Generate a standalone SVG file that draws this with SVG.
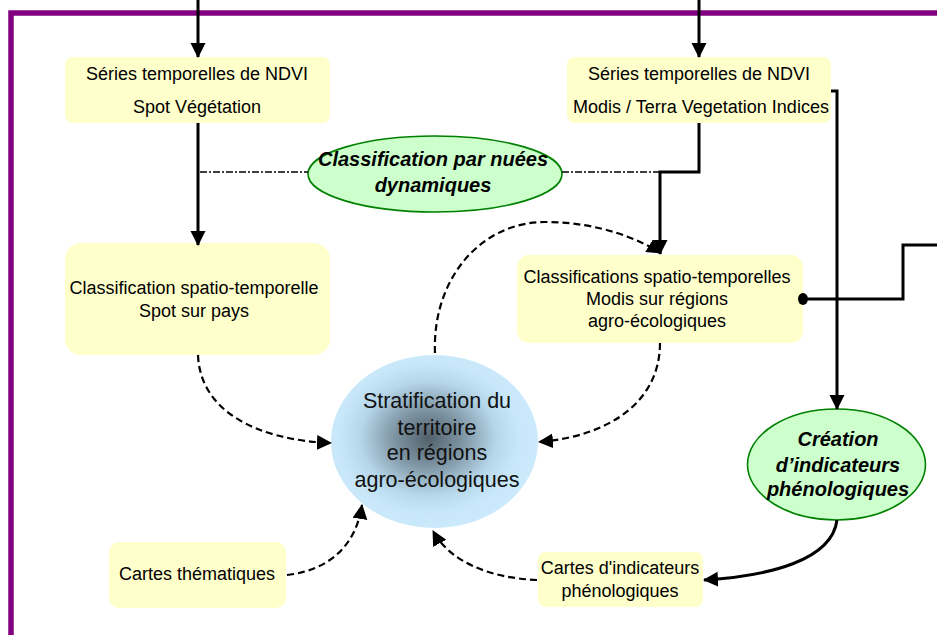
<svg xmlns="http://www.w3.org/2000/svg" width="937" height="635" viewBox="0 0 937 635">
<style>
.box{fill:#FFFFCC;stroke:none}
.ell{fill:#CCFFCC;stroke:#008000;stroke-width:1.6}
.t{font-family:"Liberation Sans",Arial,sans-serif;font-size:18px;fill:#000;text-anchor:middle}
.tb{font-family:"Liberation Sans",Arial,sans-serif;font-size:20px;font-weight:bold;font-style:italic;fill:#000;text-anchor:middle}
.ts{font-family:"Liberation Sans",Arial,sans-serif;font-size:21.5px;fill:#111;text-anchor:middle}
.solid{fill:none;stroke:#000;stroke-width:3}
.dash{fill:none;stroke:#000;stroke-width:2.2;stroke-dasharray:7 4}
.dd{fill:none;stroke:#000;stroke-width:1.5;stroke-dasharray:7 2 2 2}
</style>
<defs>
<marker id="ah" markerUnits="userSpaceOnUse" markerWidth="16" markerHeight="16" refX="14" refY="7.5" orient="auto" viewBox="0 0 16 16">
<path d="M0,0 L15,7.5 L0,15 z" fill="#000"/>
</marker>
<radialGradient id="rg" cx="0.47" cy="0.48" r="0.55">
<stop offset="0" stop-color="#52606A"/>
<stop offset="0.3" stop-color="#7E95A4"/>
<stop offset="0.6" stop-color="#B6D7EA"/>
<stop offset="0.8" stop-color="#C8E8FA"/>
<stop offset="1" stop-color="#CBEAFB"/>
</radialGradient>
</defs>
<rect width="937" height="635" fill="#fff"/>
<path d="M11,635 V13 H937" fill="none" stroke="#800080" stroke-width="5.5"/>

<g id="n1">
<rect class="box" x="65" y="57" width="265" height="66" rx="8"/>
<text class="t" x="197" y="80">Séries temporelles de NDVI</text>
<text class="t" x="197" y="113">Spot Végétation</text>
</g>
<g id="n2">
<rect class="box" x="567" y="57" width="264" height="66" rx="8"/>
<text class="t" x="699" y="80">Séries temporelles de NDVI</text>
<text class="t" x="701" y="113">Modis / Terra Vegetation Indices</text>
</g>
<g id="n3">
<ellipse class="ell" cx="435" cy="174" rx="127" ry="38"/>
<text class="tb" x="433" y="166">Classification par nuées</text>
<text class="tb" x="433" y="192">dynamiques</text>
</g>
<g id="n4">
<rect class="box" x="65" y="243" width="265" height="112" rx="16"/>
<text class="t" x="194" y="294">Classification spatio-temporelle</text>
<text class="t" x="194" y="317">Spot sur pays</text>
</g>
<g id="n5">
<rect class="box" x="517" y="255" width="286" height="88" rx="12"/>
<text class="t" x="657" y="283">Classifications spatio-temporelles</text>
<text class="t" x="657" y="305">Modis sur régions</text>
<text class="t" x="657" y="327">agro-écologiques</text>
</g>
<g id="n6">
<ellipse cx="434.5" cy="441.5" rx="103.5" ry="86.5" fill="url(#rg)"/>
<text class="ts" x="437" y="408">Stratification du</text>
<text class="ts" x="437" y="435">territoire</text>
<text class="ts" x="437" y="460">en régions</text>
<text class="ts" x="437" y="487">agro-écologiques</text>
</g>
<g id="n7">
<ellipse class="ell" cx="836.5" cy="464.5" rx="89" ry="55.5"/>
<text class="tb" x="838" y="446">Création</text>
<text class="tb" x="838" y="472">d’indicateurs</text>
<text class="tb" x="838" y="496">phénologiques</text>
</g>
<g id="n8">
<rect class="box" x="109" y="542" width="177" height="66" rx="10"/>
<text class="t" x="197" y="580">Cartes thématiques</text>
</g>
<g id="n9">
<rect class="box" x="538" y="552" width="165" height="55" rx="8"/>
<text class="t" x="620" y="574">Cartes d'indicateurs</text>
<text class="t" x="620" y="597">phénologiques</text>
</g>

<g id="connectors">
<path class="solid" d="M198,0 V57" marker-end="url(#ah)"/>
<path class="solid" d="M699,0 V57" marker-end="url(#ah)"/>
<path class="solid" d="M198,123 V245" marker-end="url(#ah)"/>
<path class="solid" d="M699,123 V172 H660 V254" marker-end="url(#ah)"/>
<path class="dd" d="M200,172 H308"/>
<path class="dd" d="M562,172 H660"/>
<path class="solid" d="M831,91 H837 V409" marker-end="url(#ah)"/>
<path class="solid" d="M803,299 H903 V245 H937"/>
<ellipse cx="803" cy="299" rx="5" ry="6" fill="#000"/>
<path class="solid" d="M837,520 C832,560 770,576 704,580" marker-end="url(#ah)"/>
<path class="dash" d="M198,355 C200,410 255,440 331,443" marker-end="url(#ah)"/>
<path class="dash" d="M660,343 C660,400 612,436 539,442" marker-end="url(#ah)"/>
<path class="dash" d="M435,353 C432,280 480,222 545,222 C600,222 640,240 661,253" marker-end="url(#ah)"/>
<path class="dash" d="M287,575 C330,570 356,545 362,505" marker-end="url(#ah)"/>
<path class="dash" d="M537,580 C490,578 450,562 433,531" marker-end="url(#ah)"/>
</g>
</svg>
